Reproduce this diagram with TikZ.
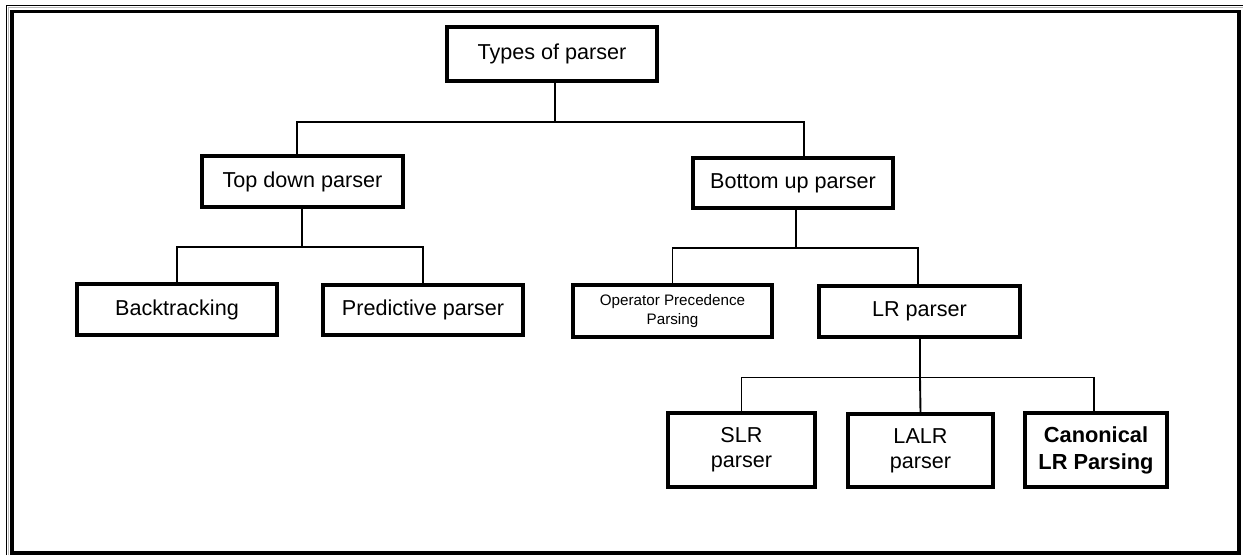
\documentclass[tikz,border=0pt]{standalone}
\usepackage{fontspec}
\setmainfont{Liberation Sans}
\begin{document}
\begin{tikzpicture}[x=1pt,y=-1pt,
  box/.style={draw=black,line width=3.4pt,fill=white,inner sep=0pt,align=center,
    font=\fontsize{21.6}{25}\selectfont},
  smallbox/.style={box,font=\fontsize{15.2}{19}\selectfont},
  boldbox/.style={box,font=\fontsize{21.8}{27}\selectfont\bfseries},
  link/.style={draw=black,line width=1.9pt}]
\useasboundingbox (0,0) rectangle (1243,555);
% page frame: thin outer rule on top and left, thick inner rule all round
\draw[gray!55,line width=1.2pt] (8.2,555) -- (8.2,7.3) -- (1243,7.3);
\draw[black,line width=1.3pt] (6.3,555) -- (6.3,5.4) -- (1243,5.4);
\draw[black,line width=3.6pt] (12,11.6) rectangle (1239,553);

% nodes
\node[box,minimum width=210pt,minimum height=54pt] (types) at (552,54) {Types of parser};
\node[box,minimum width=201pt,minimum height=51pt] (top) at (302.5,181.5) {Top down parser};
\node[box,minimum width=200pt,minimum height=50pt] (bottom) at (793,183) {Bottom up parser};
\node[box,minimum width=200pt,minimum height=51pt] (back) at (177,309.5) {Backtracking};
\node[box,minimum width=200pt,minimum height=50pt] (pred) at (423,310) {Predictive parser};
\node[smallbox,minimum width=199pt,minimum height=52pt] (opp) at (672.5,311) {Operator Precedence\\Parsing};
\node[box,minimum width=201pt,minimum height=51pt] (lr) at (919.5,311.5) {LR parser};
\node[box,minimum width=147pt,minimum height=74pt] (slr) at (741.5,450) {SLR\\parser};
\node[box,minimum width=145pt,minimum height=73pt] (lalr) at (920.5,450.5) {LALR\\parser};
\node[boldbox,minimum width=142pt,minimum height=74pt] (can) at (1096,450) {Canonical\\LR Parsing};

% junction points of the tree
\coordinate (j0) at (555,122);
\coordinate (j1) at (302,247);
\coordinate (j2) at (796,248);
\coordinate (j3) at (920,377.5);

% connectors
\draw[link] ([xshift=3pt]types.south) -- (j0);
\draw[link] ([xshift=-5.5pt]top.north) |- (j0) -| ([xshift=11pt]bottom.north);
\draw[link] ([xshift=-0.5pt]top.south) -- (j1);
\draw[link] (back.north) |- (j1) -| (pred.north);
\draw[link] ([xshift=3pt]bottom.south) -- (j2);
\draw[link] (opp.north) |- (j2) -| ([xshift=-1.5pt]lr.north);
\draw[link] ([xshift=0.5pt]lr.south) -- (j3);
\draw[link] (slr.north) |- (j3) -| ([xshift=-2pt]can.north);
\draw[link] (j3) -- (lalr.north);
\end{tikzpicture}
\end{document}
